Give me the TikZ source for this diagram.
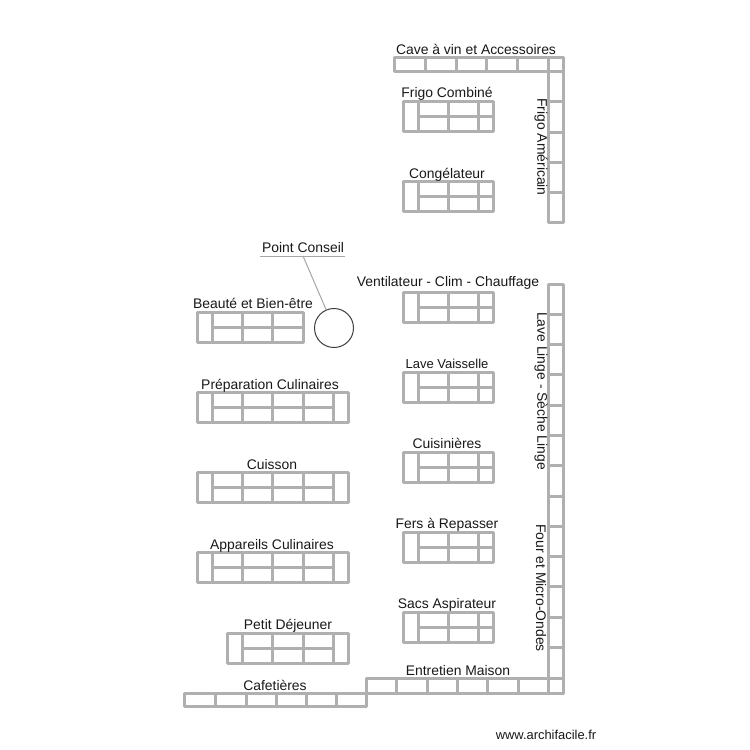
\documentclass[tikz,border=0pt]{standalone}
\usepackage{fontspec}
\setmainfont{Liberation Sans}
\definecolor{shelf}{HTML}{B0B0B0}
\definecolor{leader}{HTML}{A6A6A6}
\tikzset{
  shelfline/.style={draw=shelf,line width=2.7pt,line join=round,line cap=round},
  lbl/.style={inner sep=0pt,font=\fontsize{13.9}{16}\selectfont,text=black!90},
  vlbl/.style={lbl,rotate=-90},
}
% short unit: 90 x 30, divisions at 15,45,75
\newcommand{\unitR}[2]{%
  \draw[shelfline] (#1,#2) rectangle ++(90,30);
  \foreach \d in {15,45,75} \draw[shelfline] (#1+\d,#2) -- ++(0,30);
  \draw[shelfline] (#1+15,#2+15) -- (#1+90,#2+15);
}
% wide unit with end cell at the right: 151 x 30
\newcommand{\unitW}[2]{%
  \draw[shelfline] (#1,#2) rectangle ++(151,30);
  \foreach \d in {15,45,75,106,136} \draw[shelfline] (#1+\d,#2) -- ++(0,30);
  \draw[shelfline] (#1+15,#2+15) -- (#1+136,#2+15);
}
\begin{document}
\begin{tikzpicture}[x=1pt,y=-1pt]
\useasboundingbox[fill=white] (0,0) rectangle (750,750);

\begin{scope}[xshift=-0.2pt,yshift=0.2pt]
% top row and right columns
\draw[shelfline] (395,58) rectangle (564,72);
\foreach \x in {426,457,487,518,549} \draw[shelfline] (\x,58) -- (\x,72);
\draw[shelfline] (549,58) rectangle (564,223);
\foreach \y in {102,133,163,193} \draw[shelfline] (549,\y) -- (564,\y);

\draw[shelfline] (549,285) rectangle (564,694);
\foreach \y in {315,345,375,406,436,466,497,527,557,587,618,648} \draw[shelfline] (549,\y) -- (564,\y);

% bottom rows
\draw[shelfline] (367,679) rectangle (564,694);
\foreach \x in {397,428,458,488,519,549} \draw[shelfline] (\x,679) -- (\x,694);
\draw[shelfline] (185,694) rectangle (367,707);
\foreach \x in {216,247,277,307,337} \draw[shelfline] (\x,694) -- (\x,707);

% right-hand units
\foreach \y in {102,182,293,373,453,533,613} {\unitR{404}{\y}}

% left-hand units
\draw[shelfline] (198,313) rectangle (304,343);
\foreach \x in {213,243,273} \draw[shelfline] (\x,313) -- (\x,343);
\draw[shelfline] (213,328) -- (304,328);
\foreach \y in {393,473,553} {\unitW{198}{\y}}
\draw[shelfline] (228,634) rectangle (349,664);
\foreach \x in {243,273,304,334} \draw[shelfline] (\x,634) -- (\x,664);
\draw[shelfline] (243,649) -- (334,649);
\end{scope}

% labels
\node[lbl] (cave) at (476,49.5) {Cave à vin et Accessoires};
\node[lbl] (frigoc) at (447,94) {Frigo Combiné};
\node[lbl] (conge) at (447,175) {Congélateur};
\node[vlbl] (frigoa) at (541,147) {Frigo Américain};
\node[lbl] (venti) at (448,283) {Ventilateur - Clim - Chauffage};
\node[lbl,font=\fontsize{13}{16}\selectfont] (lvais) at (447,364) {Lave Vaisselle};
\node[lbl] (cuisi) at (447,443.5) {Cuisinières};
\node[lbl] (fers) at (447,525) {Fers à Repasser};
\node[lbl] (sacs) at (447,605) {Sacs Aspirateur};
\node[vlbl] (lling) at (541,391) {Lave Linge - Sèche Linge};
\node[vlbl] (four) at (541,588) {Four et Micro-Ondes};
\node[lbl] (entr) at (458,671) {Entretien Maison};
\node[lbl] (cafe) at (275,685) {Cafetières};
\node[lbl] (petit) at (288,626) {Petit Déjeuner};
\node[lbl] (appar) at (272,546) {Appareils Culinaires};
\node[lbl] (cuiss) at (272,465) {Cuisson};
\node[lbl] (prep) at (270,386) {Préparation Culinaires};
\node[lbl] (beau) at (253,303.5) {Beauté et Bien-être};
\node[lbl] (point) at (303,248) {Point Conseil};

% point conseil
\node[draw=black!75,line width=1pt,circle,minimum size=39pt,inner sep=0pt] (circ) at (334,328) {};
\coordinate (ulL) at (260,256);
\coordinate (ulR) at (345,256);
\coordinate (ulM) at (303,256);
\draw[leader,line width=1pt] (ulL) -- (ulR);
\draw[leader,line width=1pt] (ulM) -- (circ);

\node[inner sep=0pt,font=\fontsize{12.9}{15}\selectfont,text=black!90] (wm) at (546,735) {www.archifacile.fr};
\end{tikzpicture}
\end{document}
